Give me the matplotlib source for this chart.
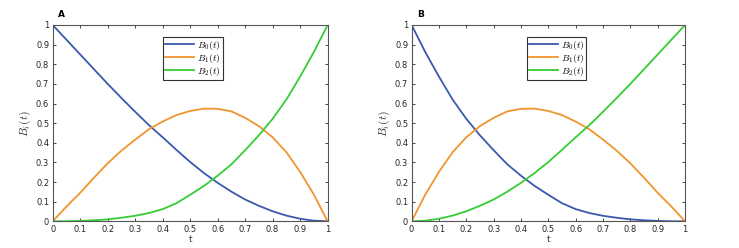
import matplotlib
matplotlib.use('Agg')
import matplotlib.pyplot as plt

plt.rcParams['mathtext.fontset'] = 'cm'
plt.rcParams['font.family'] = 'DejaVu Sans'

# sample points along t
t = [0.0, 0.05, 0.1, 0.15, 0.2, 0.25, 0.3, 0.35, 0.4, 0.45, 0.5,
     0.55, 0.6, 0.65, 0.7, 0.75, 0.8, 0.85, 0.9, 0.95, 1.0]

# panel A
a_b0 = [1.0, 0.925, 0.85, 0.775, 0.70, 0.628, 0.558, 0.49, 0.428, 0.364, 0.302,
        0.246, 0.196, 0.151, 0.111, 0.079, 0.051, 0.029, 0.013, 0.003, 0.0]
a_b1 = [0.0, 0.075, 0.145, 0.222, 0.295, 0.36, 0.416, 0.469, 0.508, 0.541, 0.562,
        0.574, 0.573, 0.56, 0.527, 0.485, 0.428, 0.352, 0.252, 0.136, 0.0]
a_b2 = [0.0, 0.0, 0.002, 0.005, 0.01, 0.018, 0.028, 0.042, 0.062, 0.092, 0.135,
        0.18, 0.232, 0.29, 0.362, 0.438, 0.522, 0.62, 0.737, 0.862, 1.0]

# panel B
b_b0 = [1.0, 0.862, 0.737, 0.62, 0.522, 0.438, 0.362, 0.29, 0.232, 0.18, 0.135,
        0.092, 0.062, 0.042, 0.028, 0.018, 0.01, 0.005, 0.002, 0.0, 0.0]
b_b1 = [0.0, 0.136, 0.252, 0.352, 0.428, 0.485, 0.527, 0.56, 0.573, 0.574, 0.562,
        0.541, 0.508, 0.469, 0.416, 0.36, 0.295, 0.222, 0.145, 0.075, 0.0]
b_b2 = [0.0, 0.003, 0.013, 0.029, 0.051, 0.079, 0.111, 0.151, 0.196, 0.246, 0.302,
        0.364, 0.428, 0.49, 0.558, 0.628, 0.70, 0.775, 0.85, 0.925, 1.0]

labels = ['$B_0(t)$', '$B_1(t)$', '$B_2(t)$']
colors = ['#3a58ad', '#f0952e', '#36cc36']
ticks = [0, 0.1, 0.2, 0.3, 0.4, 0.5, 0.6, 0.7, 0.8, 0.9, 1]
tick_text = ['0', '0.1', '0.2', '0.3', '0.4', '0.5', '0.6', '0.7', '0.8', '0.9', '1']

fig = plt.figure(figsize=(7.39, 2.48), dpi=100)

panels = [('A', [0.0713, 0.1077, 0.372, 0.7915], [a_b0, a_b1, a_b2], 0.51),
          ('B', [0.557, 0.1077, 0.370, 0.7915], [b_b0, b_b1, b_b2], 0.53)]

for name, rect, series, leg_x in panels:
    ax = fig.add_axes(rect)
    for ys, lab, c in zip(series, labels, colors):
        ax.plot(t, ys, color=c, lw=1.3, label=lab, solid_joinstyle='round')
    ax.set_xlim(0, 1)
    ax.set_ylim(0, 1)
    ax.set_xticks(ticks)
    ax.set_yticks(ticks)
    ax.set_xticklabels(tick_text)
    ax.set_yticklabels(tick_text)
    ax.tick_params(direction='in', top=True, right=True, labelsize=6,
                   length=2.5, width=0.6, colors='#262626', pad=2.5)
    for s in ax.spines.values():
        s.set_color('#555555')
        s.set_linewidth(0.8)
    ax.set_xlabel('t', fontsize=6.5, color='#333333', labelpad=1)
    ax.set_ylabel('$B_i(t)$', fontsize=8.5, color='#333333', labelpad=2)
    ax.text(0.02, 1.03, name, transform=ax.transAxes, fontsize=6.5,
            fontweight='bold', va='bottom', ha='left')
    leg = ax.legend(loc='upper center', bbox_to_anchor=(leg_x, 0.94),
                    fontsize=7, handlelength=3.0, handletextpad=0.3,
                    labelspacing=0.0, borderpad=0.2, fancybox=False,
                    framealpha=1, edgecolor='#333333', borderaxespad=0)
    leg.get_frame().set_linewidth(0.8)

fig.savefig('out.png', dpi=100)
